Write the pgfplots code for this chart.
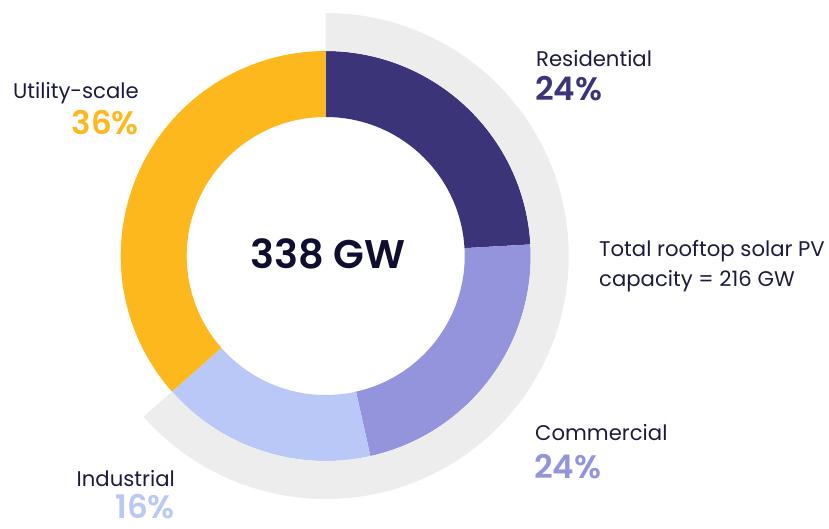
\documentclass[border=0pt]{standalone}
\usepackage{pgfplots}
\pgfplotsset{compat=1.18}
\usepackage{pgfplotstable}
\usepackage{fontspec}
\setmainfont{Poppins}
\newfontfamily\pctfont{Poppins}[UprightFont={* SemiBold}]
\newfontfamily\bigfont{Poppins}[UprightFont={* SemiBold}]
\definecolor{resid}{HTML}{3C3479}
\definecolor{comm}{HTML}{9494DD}
\definecolor{indus}{HTML}{BAC8F8}
\definecolor{util}{HTML}{FDB81E}
\definecolor{ring}{HTML}{EDEDED}
\definecolor{ink}{HTML}{1C1B3F}
\definecolor{dark}{HTML}{0F0E30}

% share of each segment (percent of 338 GW, as drawn)
\pgfplotstableread{
segment share col
Residential 24.1 resid
Commercial 22.4 comm
Industrial 17.0 indus
Utility-scale 36.5 util
}\sharetable

\def\cx{325.7}
\def\cy{272}
\def\ri{139}
\def\ro{205}
\def\rg{243}

\begin{document}
\begin{tikzpicture}
\begin{axis}[x=1pt,y=1pt,xmin=0,xmax=829,ymin=0,ymax=528,
  hide axis,clip=false,at={(0,0)},anchor=south west]
\pgfmathsetmacro\aone{90}
\pgfplotsforeachungrouped \i in {0,...,3}{%
  \pgfplotstablegetelem{\i}{share}\of\sharetable
  \let\s=\pgfplotsretval
  \pgfplotstablegetelem{\i}{col}\of\sharetable
  \let\c=\pgfplotsretval
  \pgfmathsetmacro\atwo{\aone-3.6*\s}%
  \edef\cmd{\noexpand\fill[\c] (axis cs:{\cx+\ro*cos(\aone)},{\cy+\ro*sin(\aone)})
     arc[start angle=\aone,end angle=\atwo,radius=\ro pt]
     -- (axis cs:{\cx+\ri*cos(\atwo)},{\cy+\ri*sin(\atwo)})
     arc[start angle=\atwo,end angle=\aone,radius=\ri pt] -- cycle;}%
  \cmd
  \ifnum\i=2 \global\let\ringend=\atwo\fi
  \global\let\aone=\atwo
}
\edef\cmd{\noexpand\fill[ring] (axis cs:{\cx+\rg*cos(90)},{\cy+\rg*sin(90)})
     arc[start angle=90,end angle=\ringend,radius=\rg pt]
     -- (axis cs:{\cx+\ro*cos(\ringend)},{\cy+\ro*sin(\ringend)})
     arc[start angle=\ringend,end angle=90,radius=\ro pt] -- cycle;}
\cmd

\tikzset{lbl/.style={inner sep=0pt,text=ink,font=\fontsize{21.2}{24}\selectfont},
         pct/.style={inner sep=0pt,font=\fontsize{32.5}{36}\pctfont}}

\node[anchor=base,inner sep=0pt,text=dark,font=\fontsize{40}{44}\bigfont] at (axis cs:328,260) {338 GW};

\node[anchor=base east,lbl] at (axis cs:139,429) {Utility-scale};
\node[anchor=base east,pct,text=util] at (axis cs:139,393) {36\%};

\node[anchor=base west,lbl] at (axis cs:536,461.3) {Residential};
\node[anchor=base west,pct,text=resid] at (axis cs:535,427.3) {24\%};

\node[anchor=base west,lbl] at (axis cs:599,272) {Total rooftop solar PV};
\node[anchor=base west,lbl] at (axis cs:599,242) {capacity = 216 GW};

\node[anchor=base west,lbl] at (axis cs:535,87.3) {Commercial};
\node[anchor=base west,pct,text=comm] at (axis cs:534,50) {24\%};

\node[anchor=base east,lbl] at (axis cs:175,42) {Industrial};
\node[anchor=base east,pct,text=indus] at (axis cs:175,10) {16\%};
\end{axis}
\useasboundingbox (0,0) rectangle (829pt,528pt);
\end{tikzpicture}
\end{document}
